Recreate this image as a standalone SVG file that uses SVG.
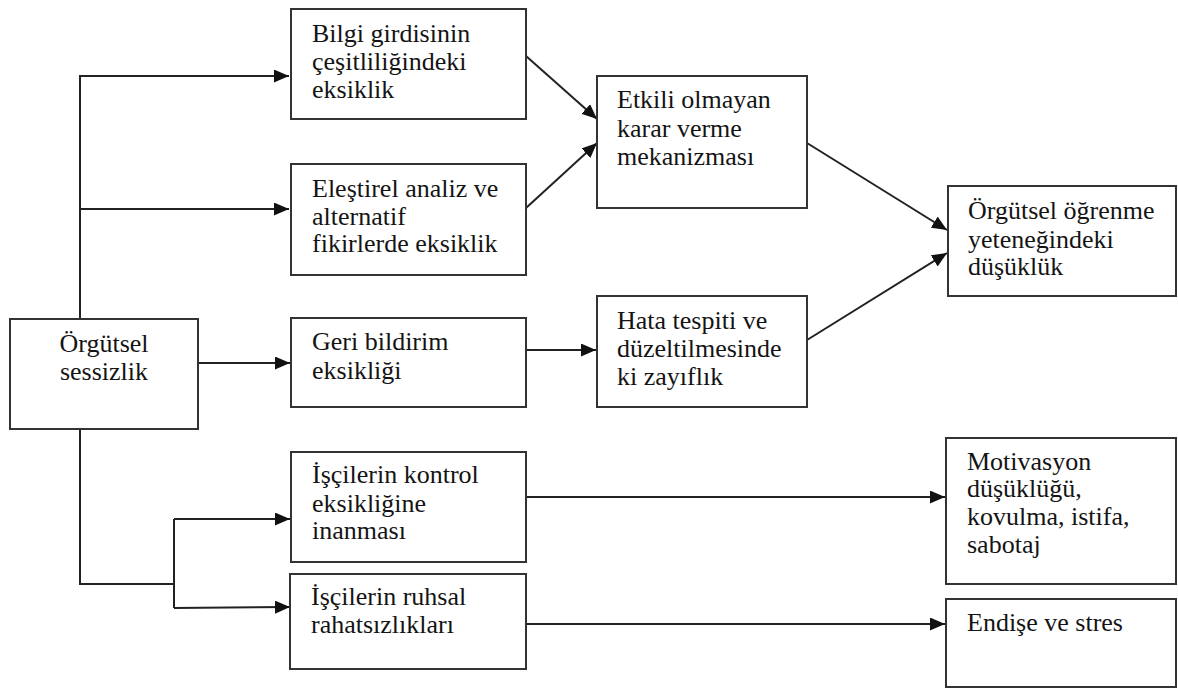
<svg xmlns="http://www.w3.org/2000/svg" width="1178" height="689" viewBox="0 0 1178 689">
<style>
.box{fill:#fff;stroke:#333;stroke-width:2}
.t{font-family:"Liberation Serif","Times New Roman",serif;font-size:26px;fill:#141414}
.c{fill:none;stroke:#222;stroke-width:2}
</style>
<defs>
<marker id="ah" markerUnits="userSpaceOnUse" markerWidth="15" markerHeight="13" refX="15" refY="6.5" orient="auto">
<path d="M0,0 L15,6.5 L0,13 z" fill="#111"/>
</marker>
</defs>
<rect width="1178" height="689" fill="#fff"/>
<g id="connectors">
<polyline class="c" points="289,76 80,76 80,319"/>
<line class="c" x1="100" y1="76" x2="289" y2="76" marker-end="url(#ah)"/>
<line class="c" x1="80" y1="209" x2="289" y2="209" marker-end="url(#ah)"/>
<line class="c" x1="198" y1="363" x2="290" y2="363" marker-end="url(#ah)"/>
<polyline class="c" points="80,429 80,584 174,584"/>
<polyline class="c" points="174,519 174,608"/>
<line class="c" x1="174" y1="519" x2="290" y2="519" marker-end="url(#ah)"/>
<line class="c" x1="174" y1="608" x2="290" y2="607" marker-end="url(#ah)"/>
<line class="c" x1="526" y1="56" x2="597" y2="119" marker-end="url(#ah)"/>
<line class="c" x1="526" y1="208" x2="597" y2="143" marker-end="url(#ah)"/>
<line class="c" x1="526" y1="350" x2="596" y2="350" marker-end="url(#ah)"/>
<line class="c" x1="807" y1="143" x2="947" y2="230" marker-end="url(#ah)"/>
<line class="c" x1="807" y1="340" x2="947" y2="253" marker-end="url(#ah)"/>
<line class="c" x1="526" y1="497" x2="945" y2="497" marker-end="url(#ah)"/>
<line class="c" x1="526" y1="624" x2="945" y2="624" marker-end="url(#ah)"/>
</g>
<g id="orgutsel-sessizlik">
<rect class="box" x="10" y="319" width="188" height="110"/>
<text class="t" x="104" y="352" text-anchor="middle">Örgütsel</text>
<text class="t" x="104" y="380" text-anchor="middle">sessizlik</text>
</g>
<g id="bilgi">
<rect class="box" x="291" y="9" width="235" height="110"/>
<text class="t" x="312" y="42">Bilgi girdisinin</text>
<text class="t" x="312" y="70">çeşitliliğindeki</text>
<text class="t" x="312" y="98">eksiklik</text>
</g>
<g id="elestirel">
<rect class="box" x="291" y="164" width="235" height="111"/>
<text class="t" x="312" y="197">Eleştirel analiz ve</text>
<text class="t" x="312" y="225">alternatif</text>
<text class="t" x="312" y="252">fikirlerde eksiklik</text>
</g>
<g id="geri-bildirim">
<rect class="box" x="291" y="318" width="235" height="89"/>
<text class="t" x="312" y="350">Geri bildirim</text>
<text class="t" x="312" y="379">eksikliği</text>
</g>
<g id="kontrol">
<rect class="box" x="291" y="452" width="235" height="110"/>
<text class="t" x="312" y="483">İşçilerin kontrol</text>
<text class="t" x="312" y="512">eksikliğine</text>
<text class="t" x="312" y="539">inanması</text>
</g>
<g id="ruhsal">
<rect class="box" x="290" y="574" width="236" height="95"/>
<text class="t" x="311" y="605">İşçilerin ruhsal</text>
<text class="t" x="311" y="633">rahatsızlıkları</text>
</g>
<g id="etkili">
<rect class="box" x="597" y="76" width="210" height="132"/>
<text class="t" x="617" y="108">Etkili olmayan</text>
<text class="t" x="617" y="137">karar verme</text>
<text class="t" x="617" y="165">mekanizması</text>
</g>
<g id="hata">
<rect class="box" x="597" y="296" width="210" height="111"/>
<text class="t" x="617" y="329">Hata tespiti ve</text>
<text class="t" x="617" y="357">düzeltilmesinde</text>
<text class="t" x="617" y="385">ki zayıflık</text>
</g>
<g id="ogrenme">
<rect class="box" x="948" y="186" width="228" height="110"/>
<text class="t" x="968" y="219">Örgütsel öğrenme</text>
<text class="t" x="968" y="248">yeteneğindeki</text>
<text class="t" x="968" y="275">düşüklük</text>
</g>
<g id="motivasyon">
<rect class="box" x="946" y="438" width="230" height="146"/>
<text class="t" x="967" y="470">Motivasyon</text>
<text class="t" x="967" y="497">düşüklüğü,</text>
<text class="t" x="967" y="525">kovulma, istifa,</text>
<text class="t" x="967" y="553">sabotaj</text>
</g>
<g id="endise">
<rect class="box" x="946" y="599" width="230" height="88"/>
<text class="t" x="967" y="631">Endişe ve stres</text>
</g>
</svg>
